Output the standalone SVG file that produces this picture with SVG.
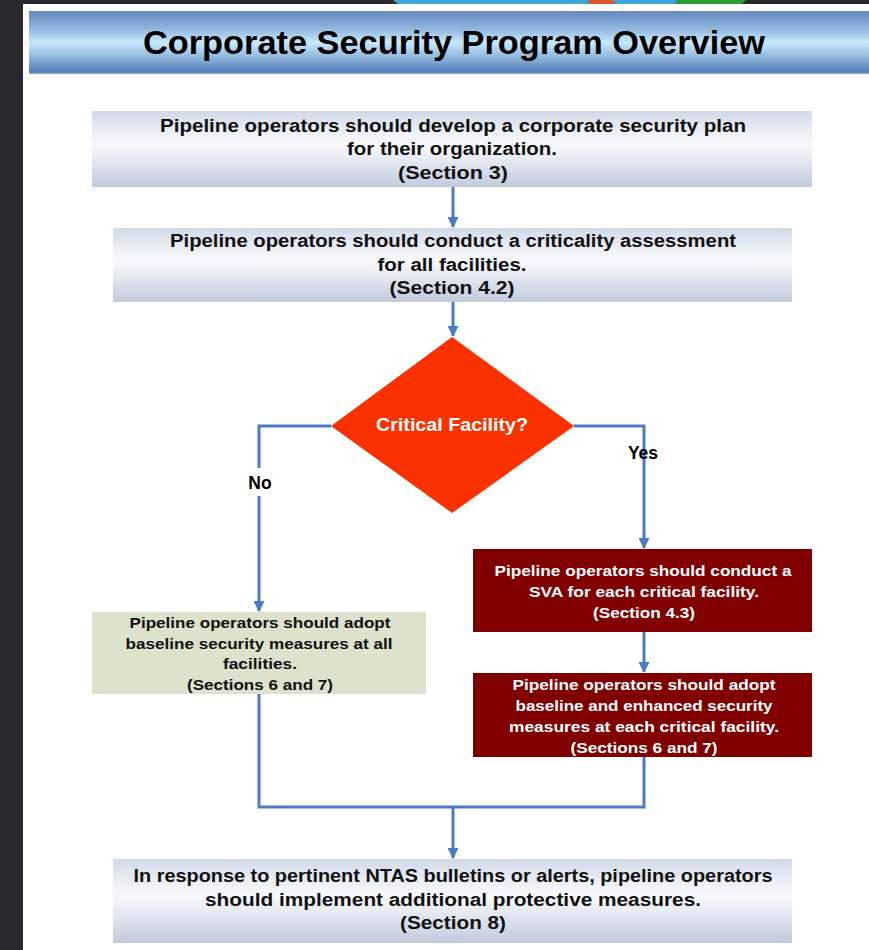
<svg xmlns="http://www.w3.org/2000/svg" width="869" height="950" viewBox="0 0 869 950">
<defs>
<linearGradient id="hdr" x1="0" y1="0" x2="0" y2="1">
<stop offset="0" stop-color="#6689bb"/>
<stop offset="0.15" stop-color="#7aa1cf"/>
<stop offset="0.3" stop-color="#95badf"/>
<stop offset="0.42" stop-color="#b3d6f0"/>
<stop offset="0.5" stop-color="#c8e8fc"/>
<stop offset="0.6" stop-color="#b0d3ee"/>
<stop offset="0.72" stop-color="#93b9de"/>
<stop offset="0.86" stop-color="#7099c9"/>
<stop offset="0.97" stop-color="#4f7db7"/>
<stop offset="1" stop-color="#9bb8d8"/>
</linearGradient>
<linearGradient id="box" x1="0" y1="0" x2="0" y2="1">
<stop offset="0" stop-color="#d0d9e6"/>
<stop offset="0.3" stop-color="#eef2f7"/>
<stop offset="0.45" stop-color="#f8f9fc"/>
<stop offset="0.6" stop-color="#e9edf4"/>
<stop offset="1" stop-color="#c0cbdc"/>
</linearGradient>
<marker id="ah" markerWidth="11" markerHeight="11" refX="10" refY="5.5" orient="auto" markerUnits="userSpaceOnUse">
<path d="M0,0 L11,5.5 L0,11 Z" fill="#4a7cc4"/>
</marker>
<style>
.ln{fill:none;stroke:#4a7cc4;stroke-width:3}
.t{font-family:"Liberation Sans",Arial,sans-serif;font-weight:bold;text-anchor:middle}
.bt{font-size:17.5px;fill:#111}
.st{font-size:15.5px;fill:#111}
.wt{font-size:15.5px;fill:#ffffff}
.lbl{font-size:17.5px;fill:#000}
</style>
</defs>
<rect x="0" y="0" width="869" height="950" fill="#ffffff"/>
<rect x="0" y="0" width="23" height="950" fill="#2a292e"/>
<rect x="0" y="0" width="869" height="4" fill="#2a292e"/>
<polygon points="393,0 588,0 590,4 398,4" fill="#3fa6dc"/>
<polygon points="588,0 612,0 617,4 590,4" fill="#dd552b"/>
<polygon points="612,0 678,0 675,4 617,4" fill="#3fa6dc"/>
<polygon points="678,0 746,0 742,4 675,4" fill="#2e9c2e"/>

<g id="header">
<rect x="29" y="11" width="840" height="63" fill="url(#hdr)"/>
<text class="t" x="454" y="54" font-size="33" fill="#000" textLength="622" lengthAdjust="spacingAndGlyphs">Corporate Security Program Overview</text>
</g>

<g id="connectors">
<line class="ln" x1="453" y1="187" x2="453" y2="227" marker-end="url(#ah)"/>
<line class="ln" x1="453" y1="302" x2="453" y2="336" marker-end="url(#ah)"/>
<polyline class="ln" points="331,426 259,426 259,468"/>
<line class="ln" x1="259" y1="496" x2="259" y2="611" marker-end="url(#ah)"/>
<polyline class="ln" points="574,426 644,426 644,548" marker-end="url(#ah)"/>
<line class="ln" x1="644" y1="632" x2="644" y2="672" marker-end="url(#ah)"/>
<polyline class="ln" points="259,694 259,807 644,807 644,757"/>
<line class="ln" x1="453" y1="807" x2="453" y2="858" marker-end="url(#ah)"/>
<text class="t lbl" x="260" y="489">No</text>
<text class="t lbl" x="643" y="459">Yes</text>
</g>

<g id="n1">
<rect x="92" y="111" width="720" height="76" fill="url(#box)"/>
<text class="t bt" x="453" y="132" textLength="586" lengthAdjust="spacingAndGlyphs">Pipeline operators should develop a corporate security plan</text>
<text class="t bt" x="452" y="155" textLength="210" lengthAdjust="spacingAndGlyphs">for their organization.</text>
<text class="t bt" x="453" y="179" textLength="110" lengthAdjust="spacingAndGlyphs">(Section 3)</text>
</g>

<g id="n2">
<rect x="113" y="228" width="679" height="74" fill="url(#box)"/>
<text class="t bt" x="453" y="247" textLength="566" lengthAdjust="spacingAndGlyphs">Pipeline operators should conduct a criticality assessment</text>
<text class="t bt" x="452" y="271" textLength="149" lengthAdjust="spacingAndGlyphs">for all facilities.</text>
<text class="t bt" x="452" y="294" textLength="125" lengthAdjust="spacingAndGlyphs">(Section 4.2)</text>
</g>

<g id="decision">
<polygon points="452,337 574,426 452,513 331,426" fill="#fb3200"/>
<text class="t" x="452" y="431" font-size="18" fill="#ffffff" textLength="152" lengthAdjust="spacingAndGlyphs">Critical Facility?</text>
</g>

<g id="n_baseline">
<rect x="92" y="612" width="334" height="82" fill="#dde2cd"/>
<text class="t st" x="260" y="628" textLength="261" lengthAdjust="spacingAndGlyphs">Pipeline operators should adopt</text>
<text class="t st" x="259" y="649" textLength="267" lengthAdjust="spacingAndGlyphs">baseline security measures at all</text>
<text class="t st" x="260" y="669" textLength="74" lengthAdjust="spacingAndGlyphs">facilities.</text>
<text class="t st" x="260" y="690" textLength="146" lengthAdjust="spacingAndGlyphs">(Sections 6 and 7)</text>
</g>

<g id="n_sva">
<rect x="473" y="549" width="339" height="83" fill="#800000"/>
<text class="t wt" x="643" y="576" textLength="297" lengthAdjust="spacingAndGlyphs">Pipeline operators should conduct a</text>
<text class="t wt" x="644" y="597" textLength="230" lengthAdjust="spacingAndGlyphs">SVA for each critical facility.</text>
<text class="t wt" x="644" y="618" textLength="102" lengthAdjust="spacingAndGlyphs">(Section 4.3)</text>
</g>

<g id="n_enhanced">
<rect x="473" y="673" width="339" height="84" fill="#800000"/>
<text class="t wt" x="644" y="690" textLength="263" lengthAdjust="spacingAndGlyphs">Pipeline operators should adopt</text>
<text class="t wt" x="644" y="711" textLength="257" lengthAdjust="spacingAndGlyphs">baseline and enhanced security</text>
<text class="t wt" x="644" y="732" textLength="270" lengthAdjust="spacingAndGlyphs">measures at each critical facility.</text>
<text class="t wt" x="644" y="753" textLength="147" lengthAdjust="spacingAndGlyphs">(Sections 6 and 7)</text>
</g>

<g id="n_ntas">
<rect x="113" y="859" width="679" height="84" fill="url(#box)"/>
<text class="t bt" x="453" y="882" textLength="639" lengthAdjust="spacingAndGlyphs">In response to pertinent NTAS bulletins or alerts, pipeline operators</text>
<text class="t bt" x="453" y="906" textLength="496" lengthAdjust="spacingAndGlyphs">should implement additional protective measures.</text>
<text class="t bt" x="453" y="929" textLength="106" lengthAdjust="spacingAndGlyphs">(Section 8)</text>
</g>
</svg>
